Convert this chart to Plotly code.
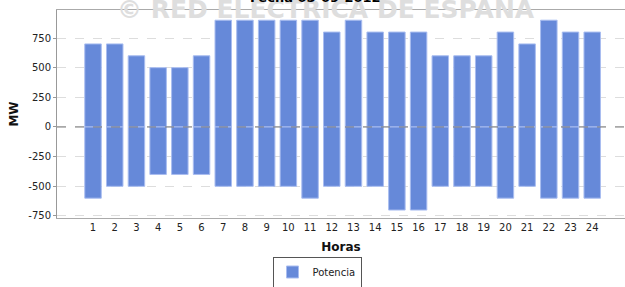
import plotly.graph_objects as go

horas = [str(h) for h in range(1, 25)]
subir = [700, 700, 600, 500, 500, 600, 900, 900, 900, 900, 900, 800,
         900, 800, 800, 800, 600, 600, 600, 800, 700, 900, 800, 800]
bajar = [-600, -500, -500, -400, -400, -400, -500, -500, -500, -500, -600, -500,
         -500, -500, -700, -700, -500, -500, -500, -600, -500, -600, -600, -600]
yticks = [-750, -500, -250, 0, 250, 500, 750]

bar_color = "#6689d9"
edge_color = "#a9bdf0"
font_family = "DejaVu Sans"

fig = go.Figure()
fig.add_trace(go.Bar(x=list(range(1, 25)), y=subir, name="Potencia", legendgroup="p",
                     marker=dict(color=bar_color, line=dict(color=edge_color, width=1)),
                     width=0.76))
fig.add_trace(go.Bar(x=list(range(1, 25)), y=bajar, name="Potencia", legendgroup="p",
                     showlegend=False,
                     marker=dict(color=bar_color, line=dict(color=edge_color, width=1)),
                     width=0.76))

fig.update_layout(
    width=625, height=287,
    margin=dict(l=57, r=0, t=10, b=69, autoexpand=False),
    barmode="overlay",
    paper_bgcolor="white", plot_bgcolor="white",
    font=dict(family=font_family, size=10, color="#333333"),
    showlegend=True,
    legend=dict(x=(317 - 57) / 568, y=(218 - 272) / 208, xanchor="center", yanchor="middle",
                orientation="h", bordercolor="#555555", borderwidth=1,
                font=dict(size=10, color="#222222"), bgcolor="white",
                itemwidth=30, tracegroupgap=0),
    xaxis=dict(range=[-0.66, 25.51], tickmode="array",
               tickvals=list(range(1, 25)), ticktext=horas,
               showgrid=False, zeroline=False, automargin=False,
               showline=True, linecolor="#aaaaaa", linewidth=1, mirror=True,
               ticks="", tickfont=dict(size=10, color="#222222"),
               title=dict(text="<b>Horas</b>", font=dict(size=12, color="#111111"), standoff=10)),
    yaxis=dict(range=[-767, 986], tickmode="array", tickvals=yticks,
               ticktext=[str(v) for v in yticks], automargin=False,
               showgrid=True, gridcolor="#dddddd", griddash="dash", gridwidth=1,
               zeroline=False,
               showline=True, linecolor="#999999", linewidth=1,
               ticks="outside", ticklen=3, tickcolor="#999999",
               tickfont=dict(size=10, color="#222222"),
               title=dict(text="<b>MW</b>", font=dict(size=12, color="#111111"), standoff=7)),
    shapes=[dict(type="line", xref="paper", x0=0, x1=1, yref="y", y0=0, y1=0,
                 line=dict(color="#777777", width=1, dash="dash"), layer="above")],
    annotations=[
        dict(text="<b>© RED ELECTRICA DE ESPAÑA</b>", xref="paper", yref="paper",
             x=(326 - 57) / 568, y=1 + 1 / 208, xanchor="center", yanchor="middle",
             showarrow=False, font=dict(size=25, color="#dedede", family=font_family)),
        dict(text="<b>Fecha 05-09-2012</b>", xref="paper", yref="paper",
             x=(315 - 57) / 568, y=1 + 13 / 208, xanchor="center", yanchor="middle",
             showarrow=False, font=dict(size=13, color="#000000", family=font_family)),
    ],
)

fig.write_html("out.html", config={"displayModeBar": False},
               post_script="document.body.style.margin='0px';")
